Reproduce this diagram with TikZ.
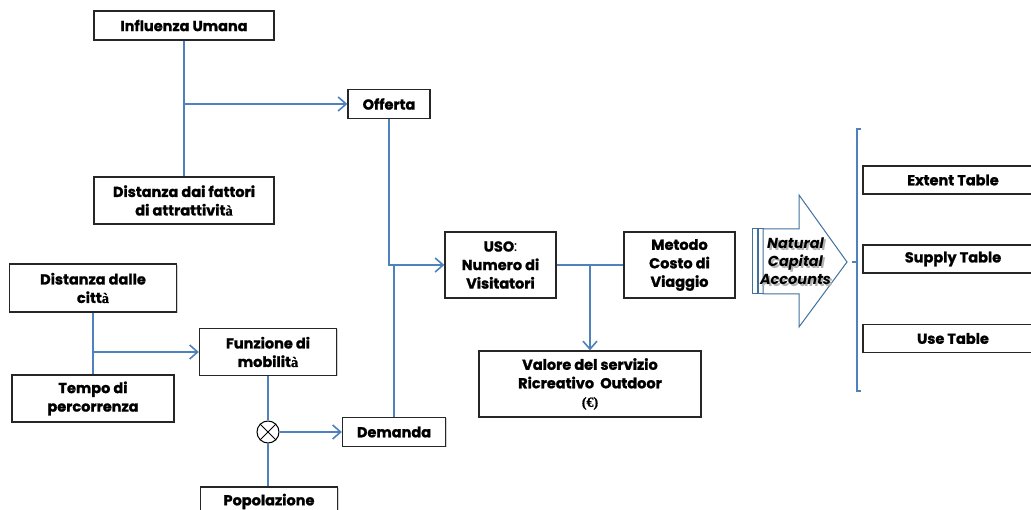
\documentclass[tikz,border=0pt]{standalone}
\usepackage{fontspec}
\setmainfont{Poppins}[BoldFeatures={FakeBold=1.2}]
\newfontfamily\serifa{Liberation Serif}[BoldFeatures={FakeBold=1}]
\newcommand{\accA}{{\serifa\bfseries à}}
\usetikzlibrary{arrows.meta,shadows}
\definecolor{lineblue}{HTML}{4F81BD}
\definecolor{arrowblue}{HTML}{41719C}
\definecolor{boxline}{HTML}{262626}
\begin{document}
\begin{tikzpicture}[x=1pt,y=-1pt,
  box/.style={draw=boxline, line width=1.3pt, fill=white, inner sep=0pt, align=center,
    font=\fontsize{14.5}{18.5}\selectfont\bfseries,
    drop shadow={shadow xshift=1pt, shadow yshift=-1pt, opacity=0.35, fill=gray}},
  conn/.style={draw=lineblue, line width=1.8pt},
  arr/.style={conn, -{Straight Barb[length=8pt,width=14pt,line width=1.6pt]}},
]
\useasboundingbox (0,0) rectangle (1031,510);
\fill[white] (0,0) rectangle (1031,510);

% nodes
\node[box, minimum width=180pt, minimum height=29pt] (iu) at (184,25.5) {Influenza Umana};
\node[box, minimum width=82pt, minimum height=29pt] (off) at (389,104) {Offerta};
\node[box, minimum width=180pt, minimum height=47pt] (dfa) at (184,200.5) {Distanza dai fattori\\di attrattivit\accA};
\node[box, minimum width=167pt, minimum height=48pt] (dc) at (93,288) {Distanza dalle\\citt\accA};
\node[box, minimum width=162pt, minimum height=47pt] (tp) at (93,398.5) {Tempo di\\percorrenza};
\node[box, minimum width=137pt, minimum height=47pt] (fm) at (268,352) {Funzione di\\mobilit\accA};
\node[circle, draw=black, line width=1pt, minimum size=22pt, inner sep=0pt, fill=white] (ox) at (268,432) {};
\draw[line width=1pt] (ox.45) -- (ox.225) (ox.135) -- (ox.315);
\node[box, minimum width=103pt, minimum height=29pt] (dem) at (394,432) {Demanda};
\node[box, minimum width=137pt, minimum height=29pt] (pop) at (269,501.5) {Popolazione};
\node[box, minimum width=111pt, minimum height=66pt] (uso) at (500.5,265) {USO{\mdseries :}\\Numero di\\Visitatori};
\node[box, minimum width=111pt, minimum height=66pt] (met) at (679.5,265) {Metodo\\Costo di\\Viaggio};
\node[box, minimum width=222pt, minimum height=66pt] (val) at (590,384) {Valore del servizio\\Ricreativo\ \ Outdoor\\{\serifa\bfseries\fontsize{14}{12}\selectfont(€)}};
\node[box, minimum width=180pt, minimum height=28pt] (ext) at (953,180) {Extent Table};
\node[box, minimum width=180pt, minimum height=28pt] (sup) at (953,259) {Supply Table};
\node[box, minimum width=180pt, minimum height=28pt] (use) at (953,338.5) {Use Table};

% connectors
\coordinate (j1) at (iu.south |- off.west);
\draw[conn] (iu.south) -- (dfa.north);
\draw[arr] (j1) -- (off.west);
\draw[arr] (off.south) |- (uso.west);
\draw[conn] (dem.north) -- (dem.north |- uso.west);
\coordinate (j2) at (dc.south |- fm.west);
\draw[conn] (dc.south) -- (tp.north);
\draw[arr] (j2) -- (fm.west);
\draw[conn] (fm.south) -- (ox.north);
\draw[conn] (ox.south) -- (ox.south |- pop.north);
\draw[arr] (ox.east) -- (dem.west);
\draw[conn] (uso.east) -- (met.west);
\coordinate (j3) at (val.north |- uso.east);
\draw[arr] (j3) -- (val.north);

% striped block arrow
\draw[arrowblue, line width=1pt, fill=white] (752,229) rectangle (757,294);
\draw[arrowblue, line width=1pt, fill=white] (758.5,229) rectangle (763,294);
\draw[arrowblue, line width=1pt, fill=white] (763,229) -- (799,229) -- (799,195) -- (847,262) -- (799,327) -- (799,294) -- (763,294) -- cycle;
\node[align=center, text=gray!60, font=\fontsize{14.5}{18}\selectfont\bfseries\itshape] at (797.5,263) {Natural\\Capital\\Accounts};
\node[align=center, font=\fontsize{14.5}{18}\selectfont\bfseries\itshape] (nca) at (795.5,261) {Natural\\Capital\\Accounts};

% bracket
\draw[lineblue, line width=2pt] (861,129) -- (857,129) -- (857,391) -- (861,391);
\draw[lineblue, line width=2pt] (857,262) -- (852,262);
\end{tikzpicture}
\end{document}
